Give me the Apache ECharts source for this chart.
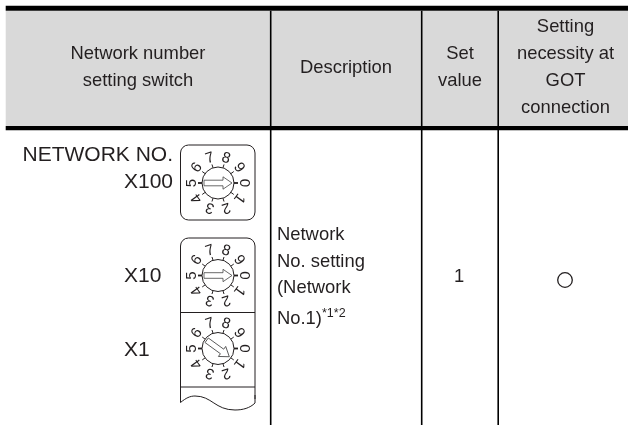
<!DOCTYPE html>
<html>
<head>
<meta charset="utf-8">
<style>
  html, body { margin: 0; padding: 0; background: #fff; }
  #main { width: 628px; height: 425px; }
</style>
<script src="https://cdn.jsdelivr.net/npm/echarts@6/dist/echarts.min.js"></script>
</head>
<body>
<div id="main"></div>
<script>
const headers = [
  ['Network number', 'setting switch'],
  ['Description'],
  ['Set', 'value'],
  ['Setting', 'necessity at', 'GOT', 'connection']
];
const switchLabels = ['NETWORK NO.', 'X100', 'X10', 'X1'];
const switchValues = [0, 0, 1];
const dialDigits = ['0', '1', '2', '3', '4', '5', '6', '7', '8', '9'];
const descriptionLines = ['Network', 'No. setting', '(Network', 'No.1)'];
const descriptionNote = '*1*2';
const setValue = '1';

const INK = '#231f20';
const FONT = '"Liberation Sans", Arial, sans-serif';
const colX = [5.7, 270.7, 421.7, 498.2, 628];
const dialX = 218;
const dialY = [183, 275.5, 348.5];

const chart = echarts.init(document.getElementById('main'), null, { renderer: 'canvas' });
const els = [];

function text(str, x, y, size, align, rotation) {
  els.push({
    type: 'text',
    x: x,
    y: y,
    rotation: rotation || 0,
    style: {
      text: str,
      font: size + 'px ' + FONT,
      fill: INK,
      textAlign: align || 'center',
      textVerticalAlign: 'middle'
    }
  });
}

function rect(x, y, w, h, fill) {
  els.push({ type: 'rect', shape: { x: x, y: y, width: w, height: h }, style: { fill: fill } });
}

function line(x1, y1, x2, y2, width) {
  els.push({
    type: 'line',
    shape: { x1: x1, y1: y1, x2: x2, y2: y2 },
    style: { stroke: INK, lineWidth: width || 1 }
  });
}

function curve(x1, y1, cpx1, cpy1, cpx2, cpy2, x2, y2) {
  els.push({
    type: 'bezierCurve',
    shape: { x1: x1, y1: y1, cpx1: cpx1, cpy1: cpy1, cpx2: cpx2, cpy2: cpy2, x2: x2, y2: y2, percent: 1 },
    style: { fill: null, stroke: INK, lineWidth: 1 }
  });
}

function drawDial(cx, cy, value) {
  const r = 16;
  dialDigits.forEach(function (d, i) {
    const a = i * Math.PI / 5;
    const c = Math.cos(a);
    const s = Math.sin(a);
    const thick = i === 0 || i === 5;
    const len = thick ? 4 : 3.5;
    line(cx + r * c, cy + r * s, cx + (r + len) * c, cy + (r + len) * s, thick ? 1.8 : 1);
    text(d, cx + (r + 10) * c, cy + (r + 10) * s, 15, 'center', -(a + Math.PI / 2));
  });
  els.push({
    type: 'circle',
    shape: { cx: cx, cy: cy, r: r },
    style: { fill: '#fff', stroke: INK, lineWidth: 1 }
  });
  // hollow arrow pointing at the selected digit
  els.push({
    type: 'polygon',
    x: cx,
    y: cy,
    rotation: -value * Math.PI / 5,
    shape: { points: [[-14, -2.8], [5, -2.8], [5, -6.2], [14, 0], [5, 6.2], [5, 2.8], [-14, 2.8]] },
    style: { fill: '#fff', stroke: '#444', lineWidth: 0.8 }
  });
}

// table frame
rect(colX[0], 11, colX[4] - colX[0], 115, '#d9d9d9');
rect(colX[0], 5.7, colX[4] - colX[0], 5, '#000');
rect(colX[0], 126, colX[4] - colX[0], 4.3, '#000');
colX.slice(1, 4).forEach(function (x) {
  rect(x - 0.8, 10.7, 1.6, 415, '#000');
});

// header cells
const headerCenter = [138, 346, 460, 565.5];
headers.forEach(function (lines, i) {
  const top = 67.5 - (lines.length - 1) * 13.5;
  lines.forEach(function (t, j) {
    text(t, headerCenter[i], top + j * 27, 18.4);
  });
});

// switch labels
text(switchLabels[0], 173, 155, 21, 'right');
text(switchLabels[1], 173, 182, 21, 'right');
text(switchLabels[2], 124, 276.5, 21, 'left');
text(switchLabels[3], 124, 350, 21, 'left');

// switch bodies
els.push({
  type: 'rect',
  shape: { x: 180.5, y: 145, width: 74.5, height: 75, r: 8 },
  style: { fill: '#fff', stroke: INK, lineWidth: 1 }
});
els.push({
  type: 'rect',
  shape: { x: 180.5, y: 238, width: 74.5, height: 163, r: [8, 8, 0, 0] },
  style: { fill: null, stroke: INK, lineWidth: 1 }
});
rect(179, 399, 78, 16, '#fff');
line(180.5, 395, 180.5, 402.5, 1);
line(255, 395, 255, 403, 1);
line(180.5, 312.5, 255, 312.5, 1);
line(180.5, 387, 255, 387, 1);
curve(180.5, 402.5, 186, 398, 190, 396, 195, 396);
curve(195, 396, 212, 396, 215, 410, 235, 410);
curve(235, 410, 243, 410, 250, 408, 255, 403);
switchValues.forEach(function (v, i) {
  drawDial(dialX, dialY[i], v);
});

// description
const descY = [235, 262, 288, 319];
descriptionLines.forEach(function (t, i) {
  text(t, 277, descY[i], 18.4, 'left');
});
text(descriptionNote, 322, 314, 12.5, 'left');

text(setValue, 459, 277, 18.4);
els.push({
  type: 'circle',
  shape: { cx: 565, cy: 280, r: 7.3 },
  style: { fill: null, stroke: INK, lineWidth: 1.3 }
});

chart.setOption({
  animation: false,
  graphic: { elements: els }
});
</script>
</body>
</html>
